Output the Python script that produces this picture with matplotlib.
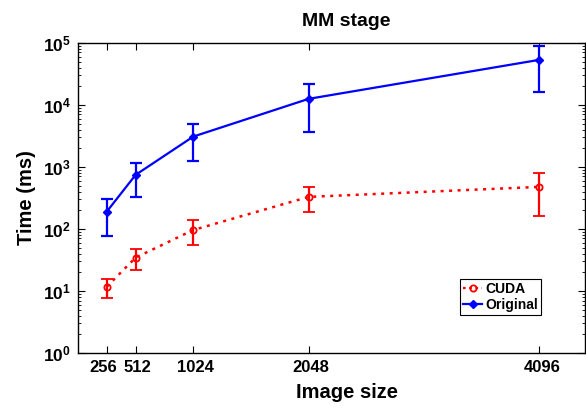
import matplotlib
matplotlib.use("Agg")
import matplotlib.pyplot as plt
import matplotlib.transforms as mtransforms
from matplotlib.lines import Line2D

plt.rcParams['font.family'] = ['Liberation Sans', 'DejaVu Sans']
plt.rcParams['font.weight'] = 'bold'
plt.rcParams['mathtext.fontset'] = 'custom'
plt.rcParams['mathtext.rm'] = 'Liberation Sans:bold'
plt.rcParams['mathtext.bf'] = 'Liberation Sans:bold'
plt.rcParams['mathtext.default'] = 'bf'

sizes = [256, 512, 1024, 2048, 4096]
cuda_time = [11.7, 34.4, 96, 328, 476]
cuda_err = [4, 12.4, 42, 142, 312]
orig_time = [190, 743, 3080, 12500, 53200]
orig_err = [112, 420, 1820, 8800, 37000]

fig = plt.figure(figsize=(5.86, 4.08), dpi=100)
ax = fig.add_axes([0.133, 0.135, 0.865, 0.76])

ax.errorbar(sizes, cuda_time, yerr=cuda_err, color='red', linestyle=(0, (1.2, 2.2)),
            linewidth=1.8, marker='o', markersize=4.5, markerfacecolor='none',
            markeredgewidth=1.3, capsize=4, elinewidth=1.6, capthick=1.6)
ax.errorbar(sizes, orig_time, yerr=orig_err, color='blue', linestyle='-',
            linewidth=1.6, marker='D', markersize=4, capsize=4,
            elinewidth=1.6, capthick=1.6)

ax.set_yscale('log')
ax.set_xlim(0, 4500)
ax.set_ylim(1, 1e5)
ax.set_xticks(sizes)
ax.set_xticklabels([str(s) for s in sizes], fontweight='bold', fontsize=12)
ax.set_yticks([10.0 ** k for k in range(6)])
ax.set_yticklabels([r'$10^{%d}$' % k for k in range(6)], fontsize=12.5)
ax.tick_params(which='both', direction='in', top=True, right=True)
ax.tick_params(which='major', length=5, width=0.8, pad=5)
ax.tick_params(which='minor', length=2.5, width=0.6)
ax.tick_params(axis='x', which='minor', bottom=False, top=False)
for s in ax.spines.values():
    s.set_linewidth(1.0)

# small nudges so 256 and 512 don't run together (as in the original)
shifts = [-3.5, 1.5, 2.5, 2.5, 2.5]
for lab, dx in zip(ax.get_xticklabels(), shifts):
    off = mtransforms.ScaledTranslation(dx / 100, 0, fig.dpi_scale_trans)
    lab.set_transform(lab.get_transform() + off)

# title and x label sit a bit right of the axes centre in the original
ax.set_title('MM stage', fontsize=14, fontweight='bold', pad=12, x=0.53)
ax.set_xlabel('Image size', fontsize=14.5, fontweight='bold', labelpad=6, x=0.53)
ax.set_ylabel('Time (ms)', fontsize=14.5, fontweight='bold', labelpad=5)

handles = [
    Line2D([], [], color='red', linestyle=(0, (1.2, 1.6)), linewidth=1.6, marker='o',
           markersize=4.5, markerfacecolor='none', markeredgewidth=1.3),
    Line2D([], [], color='blue', linestyle='-', linewidth=1.6, marker='D', markersize=4),
]
leg = ax.legend(handles, ['CUDA', 'Original'], loc='lower right',
                bbox_to_anchor=(0.913, 0.122), fontsize=10, fancybox=False,
                edgecolor='black', framealpha=1, borderpad=0.2, labelspacing=0.15,
                handlelength=1.4, handletextpad=0.2, borderaxespad=0)
leg.get_frame().set_linewidth(0.8)

fig.savefig('out.png', dpi=100)
